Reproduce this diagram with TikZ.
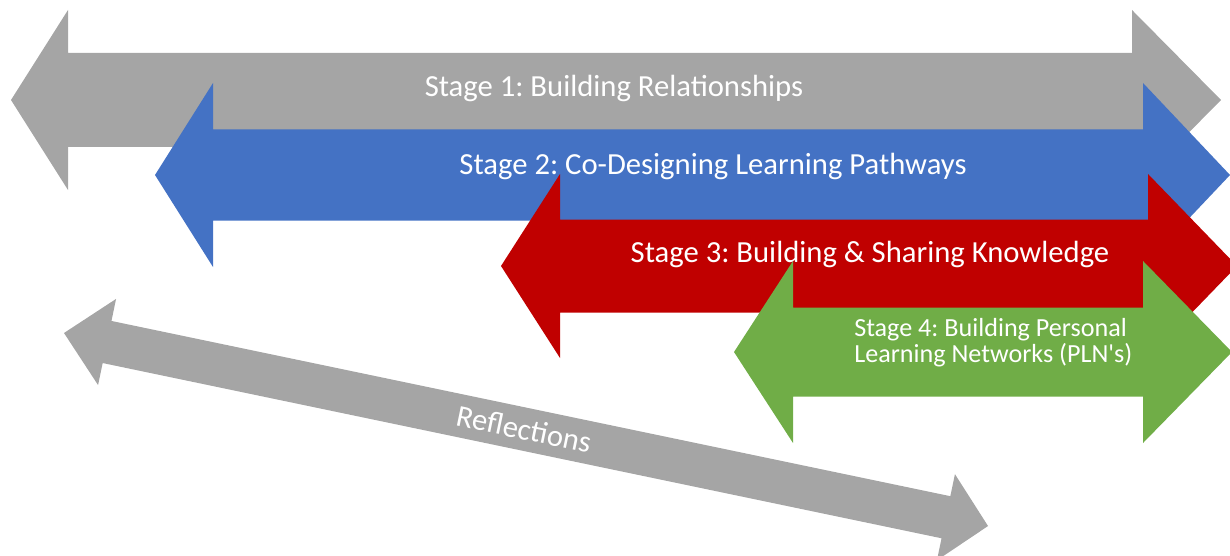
\documentclass[tikz,border=0pt]{standalone}
\usepackage{fontspec}
\setmainfont{Carlito}
\frenchspacing

\definecolor{stagegray}{HTML}{A5A5A5}
\definecolor{stageblue}{HTML}{4472C4}
\definecolor{stagered}{HTML}{C00000}
\definecolor{stagegreen}{HTML}{70AD47}

% colour, left tip, left base, right base, right tip, centre y, shaft half, head half
\newcommand{\stagearrow}[8]{%
  \fill[#1] (#2,#6) -- (#3,{#6-#8}) -- (#3,{#6-#7}) -- (#4,{#6-#7}) -- (#4,{#6-#8})
    -- (#5,#6) -- (#4,{#6+#8}) -- (#4,{#6+#7}) -- (#3,{#6+#7}) -- (#3,{#6+#8}) -- cycle;}

\begin{document}
\begin{tikzpicture}[x=0.75pt, y=-0.75pt,
    label/.style = {text=white, inner sep=0pt},
    big/.style = {label, font=\fontsize{23}{27}\selectfont, anchor=base},
    small/.style = {label, font=\fontsize{19.6}{19.5}\selectfont, align=left, anchor=north west}]
	\useasboundingbox (0,0) rectangle (1230,556);
	\clip (0,0) rectangle (1230,556);

	\stagearrow{stagegray}{11}{68}{1132}{1221}{100}{47}{90}
	\stagearrow{stageblue}{155}{213}{1143}{1230}{175}{45.5}{92}
	\stagearrow{stagered}{501}{560}{1148}{1237}{266}{46.5}{92}
	\stagearrow{stagegreen}{734}{793}{1143}{1232}{352}{44.5}{91}

	\node[big] (s1) at (614,97) {Stage 1: Building Relationships};
	\node[big] (s2) at (713,175) {Stage 2: Co-Designing Learning Pathways};
	\node[big] (s3) at (870,262) {Stage 3: Building \& Sharing Knowledge};
	\node[small] (s4) at (854,318) {Stage 4: Building Personal\\Learning Networks (PLN\textquotesingle s)};

	% reflections
	\begin{scope}[shift={(64,333)}, rotate=-11.8]
		\fill[stagegray] (0,0) -- (44,-44) -- (44,-21.5) -- (901,-21.5) -- (901,-44)
			-- (944,0) -- (901,44) -- (901,21.5) -- (44,21.5) -- (44,44) -- cycle;
		\node[label, font=\fontsize{23}{27}\selectfont, rotate=-11.8] (refl) at (470,0) {Reflections};
	\end{scope}
\end{tikzpicture}
\end{document}
